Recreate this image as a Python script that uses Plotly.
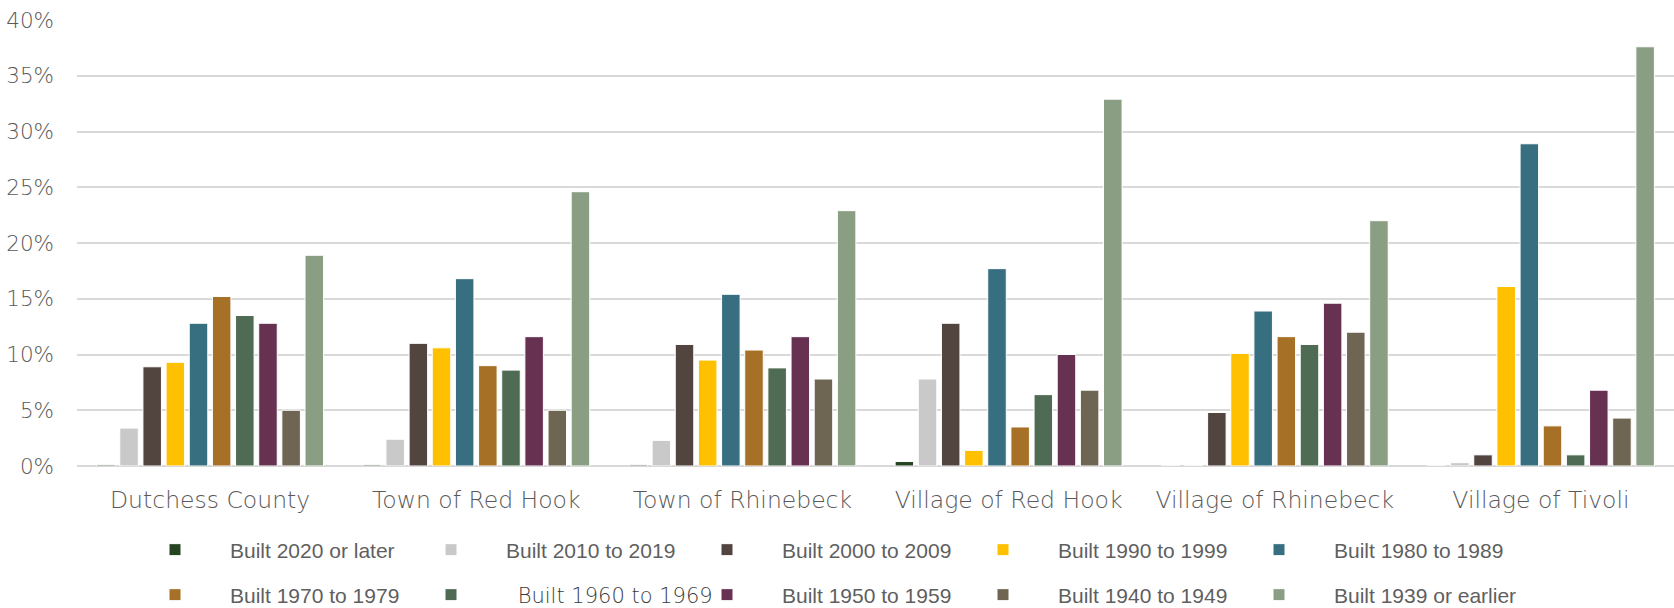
import plotly.graph_objects as go

places = ["Dutchess County", "Town of Red Hook", "Town of Rhinebeck",
          "Village of Red Hook", "Village of Rhinebeck", "Village of Tivoli"]

series_names = ["Built 2020 or later", "Built 2010 to 2019", "Built 2000 to 2009",
                "Built 1990 to 1999", "Built 1980 to 1989", "Built 1970 to 1979",
                "Built 1960 to 1969", "Built 1950 to 1959", "Built 1940 to 1949",
                "Built 1939 or earlier"]

# percent of housing units, per place (same order as places)
built_2020_later = [0.1, 0.1, 0.1, 0.4, 0.0, 0.0]
built_2010_2019 = [3.4, 2.4, 2.3, 7.8, 0.0, 0.3]
built_2000_2009 = [8.9, 11.0, 10.9, 12.8, 4.8, 1.0]
built_1990_1999 = [9.3, 10.6, 9.5, 1.4, 10.1, 16.1]
built_1980_1989 = [12.8, 16.8, 15.4, 17.7, 13.9, 28.9]
built_1970_1979 = [15.2, 9.0, 10.4, 3.5, 11.6, 3.6]
built_1960_1969 = [13.5, 8.6, 8.8, 6.4, 10.9, 1.0]
built_1950_1959 = [12.8, 11.6, 11.6, 10.0, 14.6, 6.8]
built_1940_1949 = [5.0, 5.0, 7.8, 6.8, 12.0, 4.3]
built_1939_earlier = [18.9, 24.6, 22.9, 32.9, 22.0, 37.6]

y_ticks = [0, 5, 10, 15, 20, 25, 30, 35, 40]
y_tick_labels = ["0%", "5%", "10%", "15%", "20%", "25%", "30%", "35%", "40%"]

colors = ["#264421", "#C9C9C9", "#524540", "#FFC000", "#376F80",
          "#A67026", "#4F6B53", "#673252", "#6E6652", "#8A9E84"]

series = [built_2020_later, built_2010_2019, built_2000_2009, built_1990_1999,
          built_1980_1989, built_1970_1979, built_1960_1969, built_1950_1959,
          built_1940_1949, built_1939_earlier]

pad = "\u00a0" * 6  # gap between swatch and label

fig = go.Figure()
for i, (name, vals) in enumerate(zip(series_names, series)):
    label = pad + name
    if name == "Built 1960 to 1969":
        # this one entry is set in a different face in the original
        label = (pad + "\u00a0\u00a0"
                 + '<span style="font-family:DejaVu Sans;font-size:21px;font-weight:300;color:#3a3a3a">'
                 + name + "</span>")
    fig.add_trace(go.Bar(
        x=places,
        y=vals,
        name=label,
        marker=dict(color=colors[i], line=dict(color="white", width=1)),
        legend="legend" if i < 5 else "legend2",
    ))

legend_common = dict(
    orientation="h",
    xref="container",
    yref="container",
    xanchor="left",
    yanchor="middle",
    x=155 / 1674,
    font=dict(family="Liberation Sans", size=21, color="#5f5f5f"),
    entrywidth=231,
    entrywidthmode="pixels",
    itemwidth=30,
    bgcolor="rgba(0,0,0,0)",
    traceorder="normal",
)

fig.update_layout(
    width=1674,
    height=608,
    plot_bgcolor="white",
    paper_bgcolor="white",
    barmode="group",
    bargap=0.13,
    bargroupgap=0.2,
    margin=dict(l=77, r=0, t=20, b=142, autoexpand=False),
    font=dict(family="DejaVu Sans", color="#595959"),
    legend=dict(legend_common, y=1 - 550 / 608),
    legend2=dict(legend_common, y=1 - 595 / 608),
    xaxis=dict(
        showgrid=False,
        showline=False,
        ticks="",
        automargin=False,
        ticklabelstandoff=17,
        tickfont=dict(family="DejaVu Sans", size=23.5, color="#595959", weight=300),
    ),
    yaxis=dict(
        range=[0, 40],
        tickvals=y_ticks,
        ticktext=y_tick_labels,
        showgrid=True,
        gridcolor="#D9D9D9",
        gridwidth=1.5,
        zeroline=True,
        zerolinecolor="#D9D9D9",
        zerolinewidth=1.5,
        ticks="",
        automargin=False,
        ticklabelstandoff=22,
        tickfont=dict(family="DejaVu Sans", size=21.5, color="#595959", weight=300),
    ),
)

fig.write_html("out.html", config={"displayModeBar": False},
               post_script="document.body.style.margin = '0';")
